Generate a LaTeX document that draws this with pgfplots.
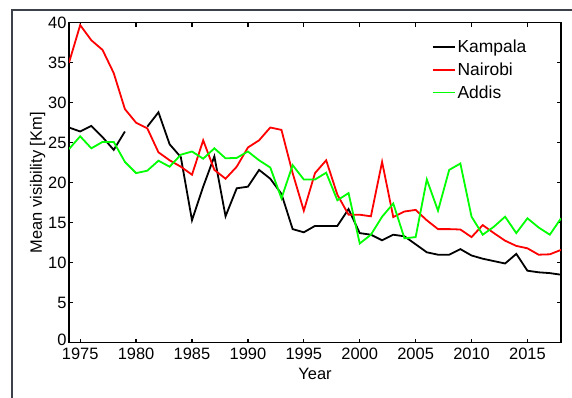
\documentclass[border=0pt]{standalone}
\usepackage{pgfplots}
\pgfplotsset{compat=1.18}
\usepackage{fontspec}
\setmainfont{Liberation Sans}
\definecolor{framegray}{RGB}{60,64,72}
\pgfplotstableread{
year kampala nairobi addis
1974 26.9 35.0 24.2
1975 26.4 39.7 25.8
1976 27.1 37.8 24.3
1977 25.7 36.6 25.1
1978 24.1 33.7 25.1
1979 26.4 29.2 22.6
1980 nan 27.5 21.2
1981 27.0 26.8 21.5
1982 28.8 23.8 22.75
1983 24.8 22.8 22.0
1984 23.2 22.0 23.5
1985 15.3 21.0 23.9
1986 19.5 25.3 23.0
1987 23.3 21.6 24.3
1988 15.8 20.5 23.05
1989 19.3 22.0 23.1
1990 19.5 24.4 23.9
1991 21.6 25.3 22.8
1992 20.5 26.9 21.9
1993 18.6 26.6 18.05
1994 14.2 21.2 22.2
1995 13.8 16.5 20.4
1996 14.6 21.2 20.4
1997 14.6 22.8 21.25
1998 14.6 18.5 17.8
1999 16.7 16.0 18.7
2000 13.7 16.0 12.4
2001 13.5 15.8 13.5
2002 12.8 22.6 15.75
2003 13.5 15.7 17.4
2004 13.3 16.4 13.05
2005 12.3 16.6 13.2
2006 11.3 15.3 20.4
2007 11.0 14.2 16.5
2008 11.0 14.2 21.6
2009 11.7 14.15 22.4
2010 10.9 13.2 15.75
2011 10.5 14.7 13.5
2012 10.2 13.7 14.5
2013 9.9 12.75 15.75
2014 11.1 12.1 13.7
2015 9.0 11.8 15.55
2016 8.8 11.0 14.4
2017 8.7 11.05 13.5
2018 8.5 11.6 15.55
}\datatable
\begin{document}
\begin{tikzpicture}[x=1bp,y=1bp]
\useasboundingbox (-69,-54.3) rectangle (503,342.7);
\draw[framegray, line width=2.5bp] (-57,-60) -- (-57,332.7) -- (510,332.7);
\begin{axis}[
  at={(0,0)}, anchor=south west,
  scale only axis, width=492bp, height=320bp,
  xmin=1974, xmax=2018, ymin=0, ymax=40,
  xtick={1975,1980,...,2015}, ytick={5,10,...,40},
  extra y ticks={0},
  extra y tick style={y tick label style={yshift=3bp}},
  x tick label style={/pgf/number format/1000 sep={}, yshift=-2bp},
  y tick label style={xshift=1bp},
  /pgf/number format/assume math mode=true,
  tick label style={font=\fontsize{16.5}{18}\selectfont},
  label style={font=\fontsize{16.5}{18}\selectfont},
  xlabel={Year}, ylabel={Mean visibility [Km]},
  xlabel style={yshift=-1bp},
  ylabel style={yshift=-4bp},
  tick align=inside, major tick length=4bp,
  axis line style={line width=1.3bp},
  every tick/.style={black, line width=1.3bp},
  unbounded coords=jump,
  legend style={draw=none, fill=none, at={(0.735,0.955)}, anchor=north west,
    font=\fontsize{17.5}{19}\selectfont, row sep=4.5bp, inner sep=1bp},
  legend cell align=left,
  legend image code/.code={\draw[#1] (0,0) -- (22bp,0);},
]
\addplot[black, line width=1.8bp] table[x=year, y=kampala] {\datatable};
\addlegendentry{Kampala}
\addplot[red, line width=1.8bp] table[x=year, y=nairobi] {\datatable};
\addlegendentry{Nairobi}
\addplot[green, line width=1.8bp] table[x=year, y=addis] {\datatable};
\addlegendentry{Addis}
\end{axis}
\end{tikzpicture}
\end{document}
